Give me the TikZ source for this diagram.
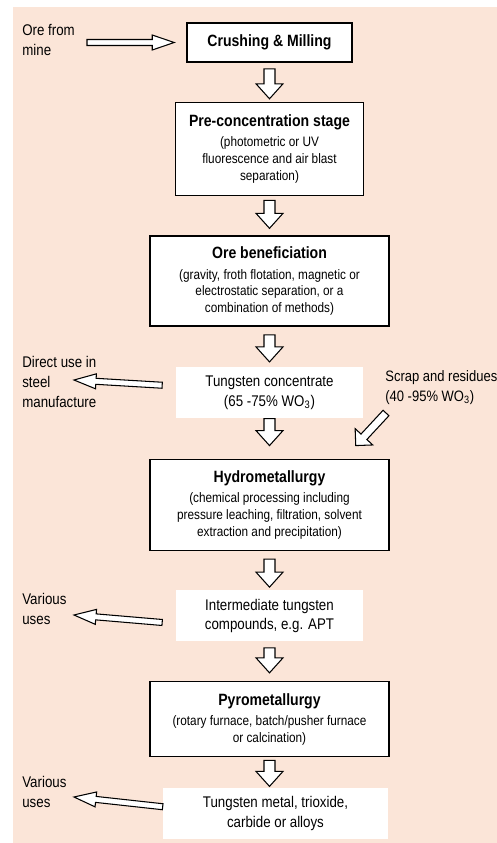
\documentclass[tikz,border=0pt]{standalone}
\usepackage{fontspec}
\setmainfont{Liberation Sans}[FakeStretch=0.86]
\usetikzlibrary{positioning,calc}

\definecolor{peach}{RGB}{251,229,216}
\newcommand{\stagetitle}[1]{{\bfseries\fontsize{9.3}{11}\selectfont #1}}

\tikzset{
  stage/.style={draw, rectangle, line width=0.9pt, fill=white, inner sep=1pt, align=center,
    font=\fontsize{7.8}{9.5}\selectfont},
  product/.style={rectangle, fill=white, align=center, inner sep=1pt, font=\fontsize{8.8}{11.3}\selectfont},
  side/.style={anchor=west, align=left, inner sep=0pt, font=\fontsize{8.8}{11.3}\selectfont},
  hollow/.style n args={3}{draw, fill=white, line width=0.6pt,
    to path={($(\tikztotarget)!#3!(\tikztostart)$) coordinate (hb)
      ($(\tikztostart)!#1!90:(\tikztotarget)$) -- ($(hb)!#1!90:(\tikztotarget)$)
      -- ($(hb)!#2!90:(\tikztotarget)$) -- (\tikztotarget)
      -- ($(hb)!#2!-90:(\tikztotarget)$) -- ($(hb)!#1!-90:(\tikztotarget)$)
      -- ($(\tikztostart)!#1!-90:(\tikztotarget)$) -- cycle}},
  down/.style={hollow={0.11cm}{0.27cm}{0.3cm}},
  side arrow/.style={hollow={0.06cm}{0.15cm}{0.44cm}}
}

\begin{document}
\begin{tikzpicture}[x=0.02cm, y=-0.02cm, node distance=0.78cm]
  \useasboundingbox (0,0) rectangle (497,843);
  \fill[peach] (13,7) rectangle (497,843);

  % main chain
  \node (crush) [stage, minimum width=3.3cm, minimum height=0.78cm] at (269.5,42.5)
    {\stagetitle{Crushing \& Milling}};
  \node (precon) [stage, below=of crush, minimum width=3.76cm, minimum height=1.86cm]
    {\stagetitle{Pre-concentration stage}\\[2pt] (photometric or UV\\ fluorescence and air blast\\ separation)};
  \node (benef) [stage, below=of precon, minimum width=4.78cm, minimum height=1.8cm]
    {\stagetitle{Ore beneficiation}\\[2pt] (gravity, froth flotation, magnetic or\\ electrostatic separation, or a\\ combination of methods)};
  \node (conc) [product, below=0.8cm of benef, minimum width=3.76cm, minimum height=1.02cm]
    {Tungsten concentrate\\(65 -75\% WO\textsubscript{3})};
  \node (hydro) [stage, below=0.8cm of conc, minimum width=4.78cm, minimum height=1.82cm]
    {\stagetitle{Hydrometallurgy}\\[2pt] (chemical processing including\\ pressure leaching, filtration, solvent\\ extraction and precipitation)};
  \node (inter) [product, below=of hydro, minimum width=3.76cm, minimum height=1.02cm]
    {Intermediate tungsten\\compounds, e.g. APT};
  \node (pyro) [stage, below=of inter, minimum width=4.78cm, minimum height=1.5cm]
    {\stagetitle{Pyrometallurgy}\\[2pt] (rotary furnace, batch/pusher furnace\\ or calcination)};
  \node (metal) [product, below=0.6cm of pyro, xshift=0.12cm, minimum width=4.5cm, minimum height=1.02cm]
    {Tungsten metal, trioxide,\\carbide or alloys};

  % side labels
  \node (ore) [side] at (22,40) {Ore from\\mine};
  \node (direct) [side] at (22,382) {Direct use in\\steel\\manufacture};
  \node (scrap) [side, font=\fontsize{8.6}{11.3}\selectfont] at (385,388) {Scrap and residues\\(40 -95\% WO\textsubscript{3})};
  \node (usesa) [side] at (22,609) {Various\\uses};
  \node (usesb) [side] at (22,792) {Various\\uses};

  \coordinate (oretail) at (87,42.5);
  \coordinate (directtip) at (74,380);
  \coordinate (usesatip) at (74,615);
  \coordinate (usesbtip) at (74,797);

  \draw[side arrow] (oretail) to ([xshift=-0.24cm]crush.west);
  \draw[down] ([yshift=-0.12cm]crush.south) to ([yshift=0.06cm]precon.north);
  \draw[down] ([yshift=-0.08cm]precon.south) to ([yshift=0.14cm]benef.north);
  \draw[down] ([yshift=-0.16cm]benef.south) to ([yshift=0.1cm]conc.north);
  \draw[down] (conc.south) to ([yshift=0.26cm]hydro.north);
  \draw[down] ([yshift=-0.16cm]hydro.south) to ([yshift=0.06cm]inter.north);
  \draw[down] ([yshift=-0.12cm]inter.south) to ([yshift=0.16cm]pyro.north);
  \draw[down] ([yshift=-0.06cm]pyro.south) to ([yshift=0.02cm]pyro.south |- metal.north);

  \draw[side arrow] ([shift={(-13,-7.5)}]conc.west) to (directtip);
  \draw[side arrow] ([shift={(-13,6.5)}]inter.west) to (usesatip);
  \draw[side arrow] ([shift={(0,-6.5)}]metal.west) to (usesbtip);
  \draw[hollow={0.08cm}{0.24cm}{0.24cm}] ([shift={(1,25)}]scrap.west) to ([shift={(-34,-13)}]hydro.north east);
\end{tikzpicture}
\end{document}
